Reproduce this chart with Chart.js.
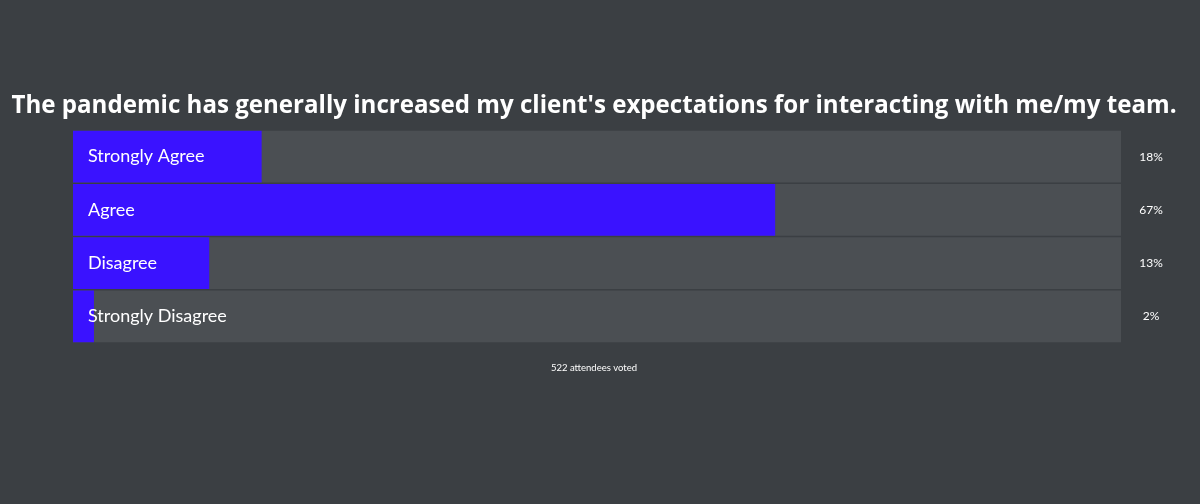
<!DOCTYPE html>
<html>
<head>
<meta charset="utf-8">
<script src="https://cdn.jsdelivr.net/npm/chart.js@4/dist/chart.umd.min.js"></script>
<style>
  html, body { margin: 0; padding: 0; background: #3b3f43; }
  #wrap { width: 1200px; height: 504px; position: relative; }
</style>
</head>
<body>
<div id="wrap"><canvas id="poll"></canvas></div>
<script>
// Poll answers and their share of votes
const answers = ['Strongly Agree', 'Agree', 'Disagree', 'Strongly Disagree'];
const shares = [18, 67, 13, 2];
const fullTrack = [100, 100, 100, 100];
const question = "The pandemic has generally increased my client's expectations for interacting with me/my team.";
const footNote = '522 attendees voted';

// Draws the question, answer names, percentages and footer
const pollText = {
  id: 'pollText',
  afterDatasetsDraw(chart) {
    const { ctx, chartArea } = chart;
    const meta = chart.getDatasetMeta(0);
    ctx.save();
    ctx.fillStyle = '#ffffff';
    ctx.textBaseline = 'middle';

    // title sized to span the same width as the original heading
    ctx.font = 'bold 24px "Open Sans"';
    const size = 24 * 1163 / ctx.measureText(question).width;
    ctx.font = 'bold ' + size.toFixed(1) + 'px "Open Sans"';
    ctx.textAlign = 'center';
    ctx.fillText(question, 594, 106);

    meta.data.forEach((bar, i) => {
      ctx.font = '18px Lato';
      ctx.textAlign = 'left';
      ctx.fillText(answers[i], chartArea.left + 15, bar.y);
      ctx.font = '12px Lato';
      ctx.textAlign = 'center';
      ctx.fillText(shares[i] + '%', 1151, bar.y);
    });

    ctx.font = '9.5px Lato';
    ctx.fillText(footNote, 594, 368);
    ctx.restore();
  }
};

new Chart(document.getElementById('poll'), {
  type: 'bar',
  data: {
    labels: answers,
    datasets: [
      {
        data: shares,
        backgroundColor: '#3a12ff',
        order: 1
      },
      {
        data: fullTrack,
        backgroundColor: '#4b4f53',
        order: 2
      }
    ]
  },
  options: {
    indexAxis: 'y',
    responsive: true,
    maintainAspectRatio: false,
    animation: false,
    grouped: false,
    categoryPercentage: 1,
    barPercentage: 0.975,
    layout: { padding: { left: 73, right: 79, top: 130, bottom: 161 } },
    scales: {
      x: { display: false, min: 0, max: 100 },
      y: { display: false }
    },
    plugins: {
      legend: { display: false },
      tooltip: { enabled: false }
    }
  },
  plugins: [pollText]
});
</script>
</body>
</html>
